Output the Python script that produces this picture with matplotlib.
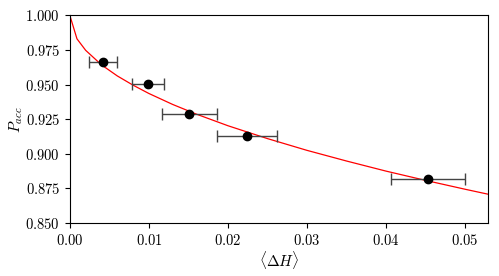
import matplotlib
matplotlib.use("Agg")
import matplotlib.pyplot as plt
from matplotlib.ticker import FuncFormatter

plt.rcParams['mathtext.fontset'] = 'cm'
plt.rcParams['font.family'] = 'DejaVu Serif'

# measured acceptance vs mean energy violation
dH = [0.0042, 0.0099, 0.0151, 0.0224, 0.0453]
dH_err = [0.0018, 0.0020, 0.0035, 0.0038, 0.0047]
p_acc = [0.9662, 0.9507, 0.9290, 0.9128, 0.8820]

# theory curve
curve_x = [0.0, 0.0009, 0.002, 0.004, 0.006, 0.008, 0.010, 0.013, 0.016,
           0.020, 0.025, 0.030, 0.035, 0.040, 0.045, 0.050, 0.053]
curve_y = [1.0, 0.9831, 0.9748, 0.9643, 0.9563, 0.9496, 0.9436, 0.9357, 0.9287,
           0.9203, 0.9110, 0.9025, 0.8948, 0.8875, 0.8808, 0.8744, 0.8707]

fig = plt.figure(figsize=(4.99, 2.76), dpi=100)
ax = fig.add_axes([0.140, 0.192, 0.838, 0.752])

ax.plot(curve_x, curve_y, color='red', lw=0.9, zorder=1)
ax.errorbar(dH, p_acc, xerr=dH_err, fmt='o', color='black', ms=6,
            ecolor='#444444', elinewidth=1.0, capsize=4, capthick=1.0, zorder=2)

ax.set_xlim(0, 0.0529)
ax.set_ylim(0.85, 1.0)
ax.set_xticks([0.0, 0.01, 0.02, 0.03, 0.04, 0.05])
ax.set_yticks([0.85, 0.875, 0.9, 0.925, 0.95, 0.975, 1.0])
ax.xaxis.set_major_formatter(FuncFormatter(lambda v, p: r'$%.2f$' % v))
ax.yaxis.set_major_formatter(FuncFormatter(lambda v, p: r'$%.3f$' % v))
ax.tick_params(labelsize=10.5)

ax.set_xlabel(r'$\langle \Delta H \rangle$', fontsize=11, labelpad=1)
ax.set_ylabel(r'$P_{acc}$', fontsize=11, labelpad=0)

fig.savefig("out.png", dpi=100)
